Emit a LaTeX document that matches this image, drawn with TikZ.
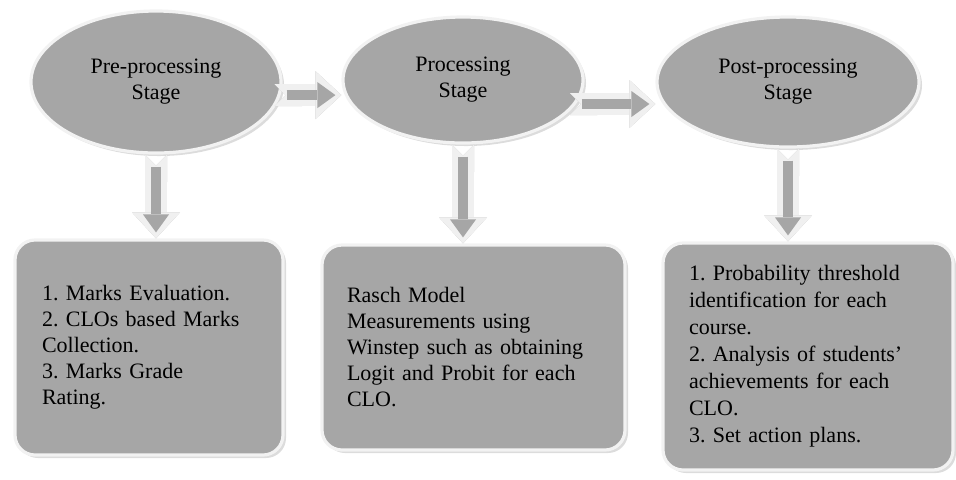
\documentclass[tikz,border=0pt]{standalone}
\usepackage{fontspec}
\setmainfont{Liberation Serif}
\frenchspacing
\usetikzlibrary{shapes.geometric,arrows.meta,shadows}

\begin{document}
\begin{tikzpicture}[x=0.5pt,y=-0.5pt,font=\fontsize{11pt}{13pt}\selectfont]
        \tikzstyle{every node}=[fill=gray!70,draw=gray!10,line width=1.6pt,drop shadow={shadow xshift=1.5pt,shadow yshift=-1.5pt,fill=gray!55}]
        \tikzstyle{stage}=[ellipse,align=center,inner sep=0pt]
        \tikzstyle{task}=[rounded corners=10pt,align=left,inner ysep=0pt]
        \tikzstyle{fatarrow}=[draw=gray!12,line width=11pt,{Triangle Cap[reversed]}-{Triangle[length=13pt,width=24pt,line width=0pt]},
            postaction={draw=gray!70,line width=5pt,shorten <=6pt,shorten >=3pt,-{Triangle[length=9pt,width=13pt,line width=0pt]}}]
        \tikzstyle{fatshadow}=[draw=gray!50,line width=11pt,xshift=1.5pt,yshift=-1.5pt,{Triangle Cap[reversed]}-{Triangle[length=13pt,width=24pt,line width=0pt]}]
        \useasboundingbox (0,0) rectangle (956,479);
        \node[stage,minimum width=125pt,minimum height=71pt] (pre) at (156,82) {Pre-processing\\Stage};
        \node[stage,minimum width=120pt,minimum height=63pt] (proc) at (463,80) {Processing\\Stage};
        \node[stage,minimum width=131pt,minimum height=65pt] (post) at (788,82) {Post-processing\\Stage};
        \node[task,minimum height=107.5pt,inner xsep=13.5pt,text width=107pt] (preBox) at (149,347.5) {1. Marks Evaluation.\\2. CLOs based Marks\\Collection.\\3. Marks Grade\\Rating.};
        \node[task,minimum height=102.5pt,inner xsep=12.5pt,text width=126.5pt] (procBox) at (473.5,347.5) {Rasch Model\\Measurements using\\Winstep such as obtaining\\Logit and Probit for each\\CLO.};
        \node[task,minimum height=113.5pt,inner xsep=13pt,text width=119pt,font=\fontsize{11pt}{13.5pt}\selectfont] (postBox) at (808,356.5) {1. Probability threshold\\identification for each\\course.\\2. Analysis of students'\\achievements for each\\CLO.\\3. Set action plans.};
        \coordinate (preOut) at ([xshift=-3pt]pre.-6);
        \coordinate (procIn) at (pre.-6 -| proc.west);
        \coordinate (procOut) at ([xshift=-3pt]proc.-12);
        \coordinate (postIn) at (proc.-12 -| post.west);
        \coordinate (preTip) at (pre.south |- preBox.north);
        \coordinate (procTip) at (proc.south |- procBox.north);
        \coordinate (postTip) at (post.south |- postBox.north);
        \foreach \from/\to in {preOut/procIn,procOut/postIn,pre.south/preTip,proc.south/procTip,post.south/postTip}
            {\draw[fatshadow] (\from) -- (\to); \draw[fatarrow] (\from) -- (\to);}
    \end{tikzpicture}
\end{document}
